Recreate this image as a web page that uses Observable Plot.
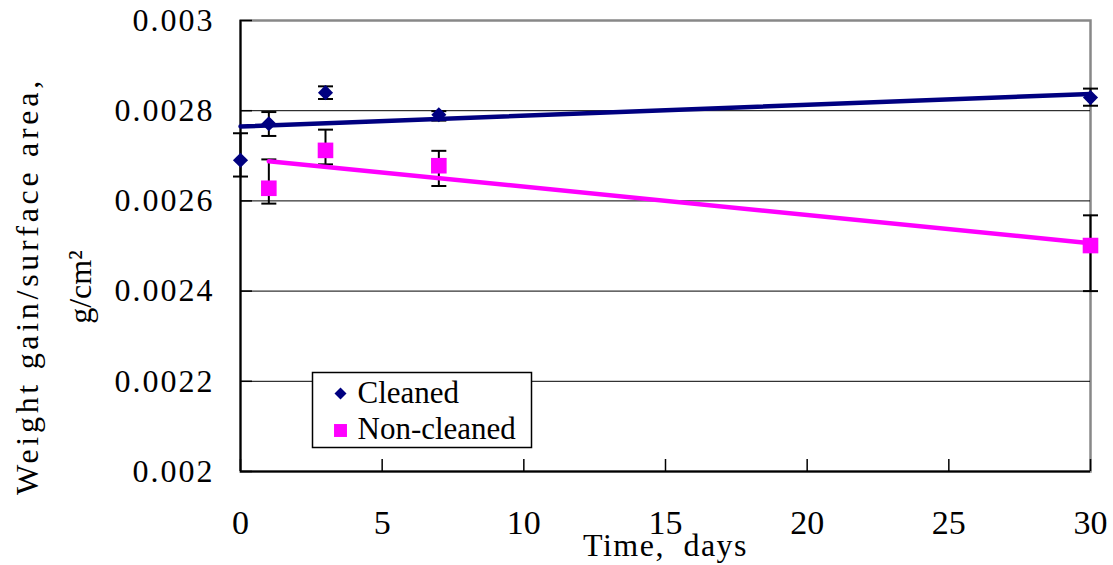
<!DOCTYPE html>
<html>
<head>
<meta charset="utf-8">
<script src="https://cdn.jsdelivr.net/npm/d3@7"></script>
<script src="https://cdn.jsdelivr.net/npm/@observablehq/plot@0.6"></script>
<style>
  body { margin: 0; background: #fff; }
  [aria-label="y-axis tick label"] { letter-spacing: 2px; }
</style>
</head>
<body>
<div id="chart"></div>
<script>
// Exposure time (days)
const days = [0, 1, 3, 7, 30];
const nonDays = [1, 3, 7, 30];

// Cleaned specimens: mean weight gain per surface area (g/cm²) and error-bar limits
const cleaned   = [0.002690, 0.002771, 0.002840, 0.002791, 0.002829];
const cleanedLo = [0.002654, 0.002744, 0.002826, 0.002778, 0.002811];
const cleanedHi = [0.002750, 0.002797, 0.002854, 0.002799, 0.002849];

// Non-cleaned specimens
const nonCleaned   = [0.002628, 0.002712, 0.002678, 0.002501];
const nonCleanedLo = [0.002594, 0.002681, 0.002633, 0.002400];
const nonCleanedHi = [0.002692, 0.002758, 0.002711, 0.002568];

// Linear trend lines (end points)
const trendCleanedDays = [0, 30];
const trendCleaned = [0.002765, 0.002837];
const trendNonDays = [1, 30];
const trendNon = [0.002688, 0.002506];

// Axis ticks
const xTicks = [0, 5, 10, 15, 20, 25, 30];
const yTicks = [0.002, 0.0022, 0.0024, 0.0026, 0.0028, 0.003];
const yTickLabels = ["0.002", "0.0022", "0.0024", "0.0026", "0.0028", "0.003"];
const gridValues = [0.0022, 0.0024, 0.0026, 0.0028];

// Series names and axis titles
const seriesNames = ["Cleaned", "Non-cleaned"];
const yTitle = ["Weight gain/surface area,", "g/cm²"];
const xTitle = "Time, days";

const navy = "#000080";
const magenta = "#FF00FF";

const cleanRows = days.map((d, i) => ({day: d, value: cleaned[i], lo: cleanedLo[i], hi: cleanedHi[i]}));
const nonRows = nonDays.map((d, i) => ({day: d, value: nonCleaned[i], lo: nonCleanedLo[i], hi: nonCleanedHi[i]}));
const trendC = trendCleanedDays.map((d, i) => ({day: d, value: trendCleaned[i]}));
const trendN = trendNonDays.map((d, i) => ({day: d, value: trendNon[i]}));

// Horizontal error-bar cap drawn as a symbol
const cap = {
  draw(context, size) {
    const w = Math.sqrt(size / Math.PI);
    context.moveTo(-w, 0);
    context.lineTo(w, 0);
  }
};

const W = 1113, H = 565;
const mL = 240, mR = 23, mT = 20, mB = 94;
const plotW = W - mL - mR, plotH = H - mT - mB;

function errorBars(rows) {
  return [
    Plot.ruleX(rows, {x: "day", y1: "lo", y2: "hi", stroke: "black", strokeWidth: 2}),
    Plot.dot(rows, {x: "day", y: "lo", symbol: cap, r: 7.5, stroke: "black", strokeWidth: 2, fill: "none"}),
    Plot.dot(rows, {x: "day", y: "hi", symbol: cap, r: 7.5, stroke: "black", strokeWidth: 2, fill: "none"})
  ];
}

const chart = Plot.plot({
  width: W,
  height: H,
  marginLeft: mL,
  marginRight: mR,
  marginTop: mT,
  marginBottom: mB,
  style: {fontFamily: "'Liberation Serif', 'DejaVu Serif', serif", background: "white", color: "black"},
  x: {domain: [0, 30], label: null},
  y: {domain: [0.002, 0.003], label: null},
  marks: [
    Plot.frame({stroke: "#888888", strokeWidth: 2.5}),
    Plot.ruleY(gridValues, {stroke: "black", strokeWidth: 1}),
    Plot.ruleY(yTicks, {stroke: "black", strokeWidth: 1.5, insetRight: plotW - 12}),
    Plot.ruleX(xTicks, {stroke: "black", strokeWidth: 1.5, insetTop: plotH - 12}),
    Plot.ruleX([0], {stroke: "black", strokeWidth: 2}),
    Plot.ruleY([0.002], {stroke: "black", strokeWidth: 2}),
    Plot.axisX({ticks: xTicks, label: null, tickSize: 0, tickPadding: 38, fontSize: 34, tickFormat: d => String(d)}),
    Plot.axisY({ticks: yTicks, label: null, tickSize: 0, tickPadding: 26, fontSize: 32, tickFormat: (d, i) => yTickLabels[i]}),

    // legend box
    Plot.frame({fill: "white", stroke: "black", strokeWidth: 1.5,
      insetLeft: 72, insetRight: plotW - 291, insetTop: 352, insetBottom: 24}),
    Plot.dot([seriesNames[0]], {frameAnchor: "top-left", dx: 100, dy: 373, symbol: "diamond2", r: 5.4, fill: navy}),
    Plot.dot([seriesNames[1]], {frameAnchor: "top-left", dx: 100, dy: 410, symbol: "square", r: 7.3, fill: magenta}),
    Plot.text([seriesNames[0]], {text: d => d, frameAnchor: "top-left", dx: 117, dy: 373, fontSize: 31,
      textAnchor: "start", lineAnchor: "middle"}),
    Plot.text([seriesNames[1]], {text: d => d, frameAnchor: "top-left", dx: 117, dy: 409, fontSize: 31,
      textAnchor: "start", lineAnchor: "middle"}),

    // data
    ...errorBars(cleanRows),
    ...errorBars(nonRows),
    Plot.line(trendC, {x: "day", y: "value", stroke: navy, strokeWidth: 4.5}),
    Plot.line(trendN, {x: "day", y: "value", stroke: magenta, strokeWidth: 4.5}),
    Plot.dot(cleanRows, {x: "day", y: "value", symbol: "diamond2", r: 6.8, fill: navy}),
    Plot.dot(nonRows, {x: "day", y: "value", symbol: "square", r: 8.8, fill: magenta}),

    // axis titles
    Plot.text([yTitle[0]], {text: d => d, frameAnchor: "left", rotate: -90,
      dx: -213, dy: 40, fontSize: 32, textAnchor: "middle", lineAnchor: "middle"}),
    Plot.text([yTitle[1]], {text: d => d, frameAnchor: "left", rotate: -90,
      dx: -160, dy: 41, fontSize: 32, textAnchor: "middle", lineAnchor: "middle"}),
    Plot.text([xTitle], {text: d => d, frameAnchor: "bottom", dy: 74, fontSize: 32,
      textAnchor: "middle", lineAnchor: "middle"})
  ]
});

// Wider character spacing for the axis titles
const spacing = new Map([
  [yTitle[0], "3.7px"],
  [xTitle, "1.5px"]
]);
d3.select(chart).selectAll("text").each(function () {
  const s = spacing.get(this.textContent);
  if (s) this.style.letterSpacing = s;
  if (this.textContent === xTitle) this.style.wordSpacing = "9px";
});

document.getElementById("chart").appendChild(chart);
</script>
</body>
</html>
